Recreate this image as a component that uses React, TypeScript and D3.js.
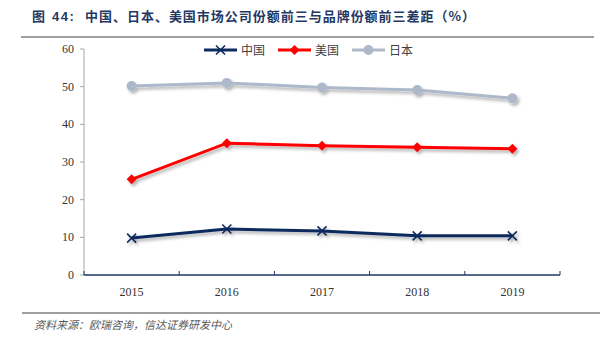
import React from "react";
import * as d3 from "d3";

const years = ["2015", "2016", "2017", "2018", "2019"];
const chinaVals = [9.8, 12.2, 11.7, 10.4, 10.4];
const usVals = [25.4, 35.0, 34.3, 33.9, 33.5];
const japanVals = [50.2, 51.0, 49.8, 49.1, 46.9];
const yTicks = [0, 10, 20, 30, 40, 50, 60];
const seriesNames = ["中国", "美国", "日本"];
const titlePrefix = "图";
const titleNum = "44:";
const titleText = "中国、日本、美国市场公司份额前三与品牌份额前三差距（%）";
const sourceText = "资料来源：欧瑞咨询，信达证券研发中心";

export default function App() {
  const W = 616, H = 345;
  const left = 84, right = 560, top = 49, bottom = 275;
  const x = d3.scaleBand().domain(years).range([left, right]);
  const y = d3.scaleLinear().domain([0, 60]).range([bottom, top]);
  const cx = (d: string) => (x(d) as number) + x.bandwidth() / 2;
  const line = d3.line<number>().x((_, i) => cx(years[i])).y((v) => y(v));

  const colors = { china: "#0B2A5E", us: "#FF0000", japan: "#ADB9CA" };
  const serif = "'Liberation Serif', 'DejaVu Serif', serif";
  const cjk = "'Noto Sans CJK SC', sans-serif";

  const xMark = (px: number, py: number, k: string) => (
    <g key={k}>
      <line x1={px - 4.5} y1={py - 4.5} x2={px + 4.5} y2={py + 4.5} stroke={colors.china} strokeWidth={1.6} />
      <line x1={px - 4.5} y1={py + 4.5} x2={px + 4.5} y2={py - 4.5} stroke={colors.china} strokeWidth={1.6} />
    </g>
  );
  const diamond = (px: number, py: number, k: string) => (
    <path key={k} d={`M${px},${py - 5}L${px + 5},${py}L${px},${py + 5}L${px - 5},${py}Z`} fill={colors.us} />
  );
  const circ = (px: number, py: number, k: string) => (
    <circle key={k} cx={px} cy={py} r={5} fill={colors.japan} />
  );

  const boundaries = [...years.map((d) => x(d) as number), right];
  const legendItems = [
    { name: seriesNames[0], color: colors.china, x0: 204, mark: xMark },
    { name: seriesNames[1], color: colors.us, x0: 278, mark: diamond },
    { name: seriesNames[2], color: colors.japan, x0: 352, mark: circ },
  ];

  return (
    <svg width={W} height={H} style={{ position: "absolute", left: 0, top: 0, background: "#fff" }}>
      <defs>
        <filter id="sh" x="-10%" y="-30%" width="120%" height="160%">
          <feDropShadow dx="2" dy="2.5" stdDeviation="1.5" floodColor="#000" floodOpacity="0.3" />
        </filter>
      </defs>
      <g fontFamily={cjk} fontWeight="bold" fontSize={13} fill="#1F3864">
        <text x={32} y={21}>{titlePrefix}</text>
        <text x={52} y={21} fontFamily="'Liberation Sans', Arial, sans-serif" letterSpacing={1.5}>{titleNum}</text>
        <text x={85} y={21} textLength={390} lengthAdjust="spacing">{titleText}</text>
      </g>
      <line x1={21} x2={594} y1={37} y2={37} stroke="#7F7F7F" strokeWidth={1.5} />

      {/* y axis */}
      <line x1={left} x2={left} y1={top} y2={bottom} stroke="#A6A6A6" strokeWidth={1} />
      {yTicks.map((t) => (
        <g key={t}>
          <line x1={left - 4} x2={left} y1={y(t)} y2={y(t)} stroke="#A6A6A6" />
          <text x={74} y={y(t) + 4} textAnchor="end" fontFamily={serif} fontSize={12} fill="#333">{t}</text>
        </g>
      ))}
      {/* x axis */}
      <line x1={left} x2={right} y1={bottom} y2={bottom} stroke="#1F3864" strokeWidth={1.5} />
      {boundaries.map((b, i) => (
        <line key={i} x1={b} x2={b} y1={bottom} y2={bottom - 4} stroke="#1F3864" strokeWidth={1} />
      ))}
      {years.map((d) => (
        <text key={d} x={cx(d)} y={296} textAnchor="middle" fontFamily={serif} fontSize={12} fill="#333">{d}</text>
      ))}

      {/* series */}
      <g filter="url(#sh)">
        <path d={line(japanVals) || ""} fill="none" stroke={colors.japan} strokeWidth={3} />
        {japanVals.map((v, i) => circ(cx(years[i]), y(v), "j" + i))}
        <path d={line(usVals) || ""} fill="none" stroke={colors.us} strokeWidth={3} />
        {usVals.map((v, i) => diamond(cx(years[i]), y(v), "u" + i))}
        <path d={line(chinaVals) || ""} fill="none" stroke={colors.china} strokeWidth={3} />
        {chinaVals.map((v, i) => xMark(cx(years[i]), y(v), "c" + i))}
      </g>

      {/* legend */}
      {legendItems.map((it) => (
        <g key={it.name}>
          <line x1={it.x0} x2={it.x0 + 33} y1={50} y2={50} stroke={it.color} strokeWidth={3} />
          {it.mark(it.x0 + 16.5, 50, "m")}
          <text x={it.x0 + 37} y={54.5} fontFamily={cjk} fontSize={12} fill="#404040">{it.name}</text>
        </g>
      ))}

      <line x1={22} x2={600} y1={313} y2={313} stroke="#7F7F7F" strokeWidth={1.5} />
      <text x={34} y={329} fontFamily={cjk} fontStyle="italic" fontSize={11} fill="#595959">{sourceText}</text>
    </svg>
  );
}
